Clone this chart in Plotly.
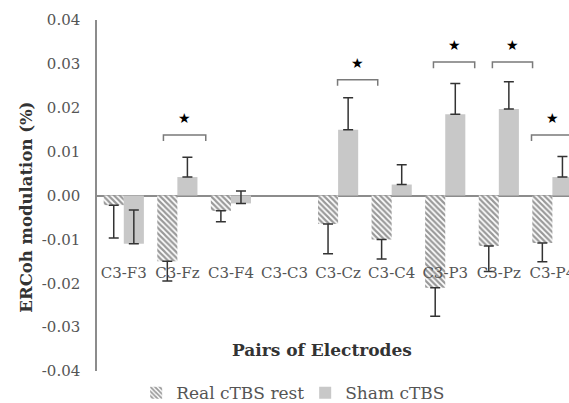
import plotly.graph_objects as go

categories = ["C3-F3", "C3-Fz", "C3-F4", "C3-C3", "C3-Cz", "C3-C4", "C3-P3", "C3-Pz", "C3-P4"]
real_values = [-0.0022, -0.0150, -0.0035, None, -0.0065, -0.0100, -0.0210, -0.0115, -0.0108]
real_err_minus = [0.0075, 0.0045, 0.0025, 0, 0.0068, 0.0045, 0.0065, 0.0058, 0.0043]
real_err_plus = [0, 0, 0, 0, 0, 0, 0, 0, 0]
sham_values = [-0.0110, 0.0042, -0.0018, None, 0.0150, 0.0025, 0.0185, 0.0197, 0.0042]
sham_err_plus = [0.0077, 0.0045, 0.0028, 0, 0.0073, 0.0045, 0.0070, 0.0062, 0.0047]
sham_err_minus = [0, 0, 0, 0, 0, 0, 0, 0, 0]

sig_categories = ["C3-Fz", "C3-Cz", "C3-P3", "C3-Pz", "C3-P4"]
sig_bracket_y = [0.0138, 0.0264, 0.0304, 0.0304, 0.0138]
sig_star_y = [0.0177, 0.0302, 0.0343, 0.0343, 0.0177]

y_ticks = [-0.04, -0.03, -0.02, -0.01, 0.00, 0.01, 0.02, 0.03, 0.04]
y_tick_text = [f"{v:.2f}".replace("\u2212", "-") for v in y_ticks]

# styling (positions of brackets relative to category centre)
bracket_left = [-0.26, -0.01, -0.22, -0.12, -0.39]
bracket_right = [0.53, 0.74, 0.55, 0.63, 0.40]
bracket_leg = 0.0014

FONT = "DejaVu Serif"
TICK_COLOR = "#555555"

fig = go.Figure()
fig.add_trace(go.Bar(
    name="Real cTBS rest", x=categories, y=real_values,
    marker=dict(color="white", line=dict(width=0),
                pattern=dict(shape="\\", fgcolor="#333333", bgcolor="white", size=4, solidity=0.55)),
    error_y=dict(type="data", symmetric=False, array=real_err_plus, arrayminus=real_err_minus,
                 color="#333333", thickness=1.5, width=5),
))
fig.add_trace(go.Bar(
    name="Sham cTBS", x=categories, y=sham_values,
    marker=dict(color="#c8c8c8", line=dict(width=0)),
    error_y=dict(type="data", symmetric=False, array=sham_err_plus, arrayminus=sham_err_minus,
                 color="#333333", thickness=1.5, width=5),
))

for cat, by, sy, l, r in zip(sig_categories, sig_bracket_y, sig_star_y, bracket_left, bracket_right):
    i = categories.index(cat)
    x0, x1 = i + l, i + r
    fig.add_shape(type="path",
                  path=f"M {x0},{by - bracket_leg} L {x0},{by} L {x1},{by} L {x1},{by - bracket_leg}",
                  xref="x", yref="y", line=dict(color="#7a7a7a", width=1.5))
    fig.add_annotation(x=(x0 + x1) / 2, y=sy, xref="x", yref="y", text="★", showarrow=False,
                       font=dict(size=14, color="black", family="DejaVu Sans"))

fig.update_layout(
    width=569, height=403,
    margin=dict(l=97, r=0, t=20, b=32, autoexpand=False),
    paper_bgcolor="white", plot_bgcolor="white",
    barmode="group", bargap=0.25, bargroupgap=0,
    font=dict(family=FONT, color=TICK_COLOR, size=12),
    showlegend=True,
    legend=dict(orientation="h", x=0.083, xanchor="left", y=-0.063, yanchor="middle",
                font=dict(family=FONT, size=17, color=TICK_COLOR), bgcolor="rgba(0,0,0,0)",
                itemwidth=30, entrywidth=124, entrywidthmode="pixels", tracegroupgap=0),
    xaxis=dict(range=[-0.5, 8.31], showgrid=False, showline=False, ticks="", anchor="free",
               position=0.31, tickfont=dict(family=FONT, size=15, color=TICK_COLOR),
               automargin=False, fixedrange=True),
    yaxis=dict(range=[-0.04, 0.04], tickvals=y_ticks, ticktext=y_tick_text, showgrid=False,
               showline=True, linecolor="#8c8c8c", linewidth=1.5, ticks="",
               zeroline=True, zerolinecolor="#8c8c8c", zerolinewidth=1.5, automargin=False,
               tickfont=dict(family=FONT, size=15, color=TICK_COLOR), ticklabelstandoff=12),
)
fig.add_annotation(text="<b>Pairs of Electrodes</b>", xref="paper", yref="paper", x=0.477, y=0.06,
                   xanchor="center", yanchor="middle",
                   showarrow=False, font=dict(family=FONT, size=17, color="#333333"))
fig.add_annotation(text="<b>ERCoh modulation (%)</b>", xref="paper", yref="paper", x=-0.150, y=0.466,
                   xanchor="center", yanchor="middle",
                   textangle=-90, showarrow=False, font=dict(family=FONT, size=16.5, color="#333333"))

fig.write_html("out.html", config={"displayModeBar": False},
               post_script="document.body.style.margin='0';document.body.style.overflow='hidden';")
